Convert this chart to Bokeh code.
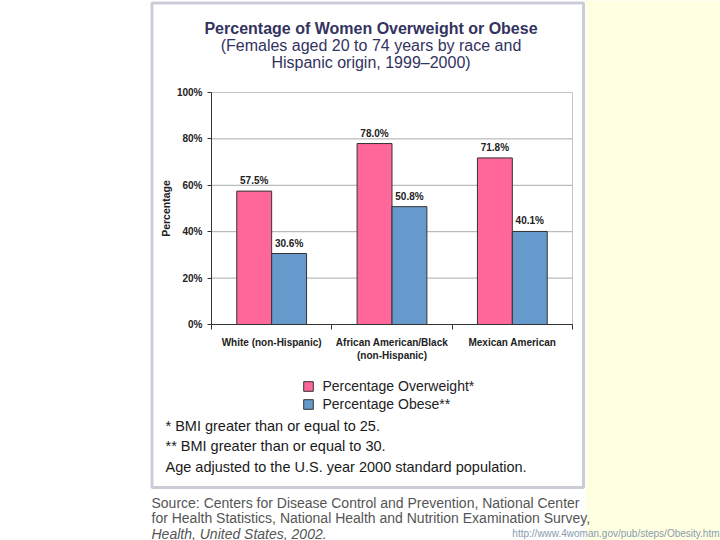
import numpy as np
from bokeh.plotting import figure
from bokeh.models import (Range1d, FixedTicker, PrintfTickFormatter, Label, Legend,
                          LegendItem, BoxAnnotation, ColumnDataSource)
from bokeh.core.properties import value
from bokeh.embed import file_html
from bokeh.resources import INLINE

# ---------------- data ----------------
categories = ["White (non-Hispanic)", "African American/Black\n(non-Hispanic)", "Mexican American"]
overweight = [57.5, 78.0, 71.8]
obese = [30.6, 50.8, 40.1]
y_ticks = [0, 20, 40, 60, 80, 100]
series_names = ["Percentage Overweight*", "Percentage Obese**"]
title_text = "Percentage of Women Overweight or Obese"
subtitle_lines = ["(Females aged 20 to 74 years by race and", "Hispanic origin, 1999–2000)"]
footnotes = ["* BMI greater than or equal to 25.",
             "** BMI greater than or equal to 30.",
             "Age adjusted to the U.S. year 2000 standard population."]
source_lines = ["Source: Centers for Disease Control and Prevention, National Center",
                "for Health Statistics, National Health and Nutrition Examination Survey,",
                "Health, United States, 2002."]
url_text = "http://www.4woman.gov/pub/steps/Obesity.htm"

# ---------------- layout (pixels) ----------------
W, H = 720, 540
CL, CR, CT, CB = 211, 572, 92, 324      # chart plot area on the canvas
FONT = "Liberation Sans"
n_cat = len(categories)
x_lo, x_hi = 0, n_cat
y_lo, y_hi = y_ticks[0], y_ticks[-1]
kx = (CR - CL) / (x_hi - x_lo)
ky = (CB - CT) / (y_hi - y_lo)

p = figure(width=W, height=H, output_backend="svg", toolbar_location=None,
           x_range=Range1d(x_lo - CL / kx, x_hi + (W - CR) / kx),
           y_range=Range1d(y_lo - (H - CB) / ky, y_hi + CT / ky),
           min_border=0, min_border_left=0, min_border_right=0,
           min_border_top=0, min_border_bottom=0)
p.title.visible = False
p.background_fill_color = "white"
p.border_fill_color = "white"
p.outline_line_color = None
p.xgrid.visible = False
p.ygrid.visible = False

def sx(rx):
    return rx

def sy(ry):
    return H - ry

# yellow strip and framed box
p.add_layout(BoxAnnotation(left=sx(585), right=sx(W + 10), top=sy(-10), bottom=sy(H + 10),
                           left_units="screen", right_units="screen",
                           top_units="screen", bottom_units="screen",
                           fill_color="#FFFFE1", fill_alpha=1, line_alpha=0, level="underlay"))
p.add_layout(BoxAnnotation(left=sx(151.5), right=sx(583), top=sy(2.5), bottom=sy(487),
                           left_units="screen", right_units="screen",
                           top_units="screen", bottom_units="screen",
                           fill_alpha=0, line_color="#55557F", line_width=3, level="overlay"))

# ---------------- grid + plot border ----------------
p.segment(x0=x_lo, x1=x_hi, y0=y_ticks[1:-1], y1=y_ticks[1:-1],
          line_color="#AAAAAA", line_width=1)
p.add_layout(BoxAnnotation(left=x_lo, right=x_hi, bottom=y_lo, top=y_hi,
                           fill_alpha=0, line_color="#404040", line_width=1, level="underlay"))

# ---------------- bars ----------------
xc = np.arange(n_cat) + 0.5
bw = 0.29
src = ColumnDataSource(dict(
    x_ow=xc - bw / 2, x_ob=xc + bw / 2, ow=overweight, ob=obese,
    ow_lbl=[f"{v:.1f}%" for v in overweight], ob_lbl=[f"{v:.1f}%" for v in obese]))

r1 = p.vbar(x="x_ow", top="ow", bottom=0, width=bw, source=src,
            fill_color="#FF6699", line_color="#333333", line_width=1)
r2 = p.vbar(x="x_ob", top="ob", bottom=0, width=bw, source=src,
            fill_color="#6699CC", line_color="#333333", line_width=1)

for col, lbl in (("x_ow", "ow"), ("x_ob", "ob")):
    p.text(x=col, y=lbl, text=lbl + "_lbl", source=src, text_align="center",
           text_baseline="bottom", y_offset=-5, text_font=value(FONT),
           text_font_style="bold", text_font_size="10px", text_color="#222222")

# ---------------- axes ----------------
xa = p.xaxis[0]
xa.fixed_location = y_lo
xa.bounds = (x_lo, x_hi)
xa.ticker = FixedTicker(ticks=list(xc), minor_ticks=list(range(n_cat + 1)))
xa.major_label_overrides = {float(v): c for v, c in zip(xc, categories)}
xa.major_tick_out = 0
xa.major_tick_in = 0
xa.minor_tick_out = 5
xa.minor_tick_in = 0
xa.major_label_standoff = 7
xa.axis_line_color = "#333333"
xa.minor_tick_line_color = "#333333"
xa.major_label_text_font = FONT
xa.major_label_text_font_style = "bold"
xa.major_label_text_font_size = "10px"
xa.major_label_text_color = "#222222"

ya = p.yaxis[0]
ya.fixed_location = x_lo
ya.bounds = (y_lo, y_hi)
ya.ticker = FixedTicker(ticks=y_ticks)
ya.formatter = PrintfTickFormatter(format="%d%%")
ya.major_tick_out = 4
ya.major_tick_in = 0
ya.minor_tick_out = 0
ya.minor_tick_in = 0
ya.major_label_standoff = 5
ya.axis_line_color = "#333333"
ya.major_tick_line_color = "#333333"
ya.major_label_text_font = FONT
ya.major_label_text_font_style = "bold"
ya.major_label_text_font_size = "10px"
ya.major_label_text_color = "#222222"
ya.axis_label = "Percentage"
ya.axis_label_text_font = FONT
ya.axis_label_text_font_style = "bold"
ya.axis_label_text_font_size = "10.5px"
ya.axis_label_text_color = "#222222"
ya.axis_label_standoff = 2

# ---------------- legend ----------------
leg_top, leg_h = 377, 35
legend = Legend(items=[LegendItem(label=series_names[0], renderers=[r1]),
                       LegendItem(label=series_names[1], renderers=[r2])],
                location=(sx(301.5), H - leg_top - leg_h),
                orientation="vertical", padding=0, margin=0, spacing=1,
                glyph_width=12, glyph_height=12, label_height=17, label_standoff=9,
                label_text_font=FONT, label_text_font_size="14px",
                label_text_color="#222222", border_line_alpha=0,
                background_fill_alpha=0)
p.add_layout(legend)

# ---------------- texts ----------------
def add_label(text, rx, ry, size, style="normal", color="#222222", align="left"):
    p.add_layout(Label(x=sx(rx), y=sy(ry), x_units="screen", y_units="screen", text=text,
                       text_font=FONT, text_font_size=size, text_font_style=style,
                       text_color=color, text_align=align, text_baseline="middle"))

add_label(title_text, 370.5, 27.5, "16px", "bold", "#333360", "center")
for i, line in enumerate(subtitle_lines):
    add_label(line, 370.5, 45 + 17 * i, "16px", "normal", "#333360", "center")

for i, line in enumerate(footnotes):
    add_label(line, 165, 425 + 20.5 * i, "14.5px", "normal", "#1a1a1a")

for i, line in enumerate(source_lines):
    add_label(line, 151, 502 + 15.5 * i, "14px", "italic" if i == 2 else "normal", "#555555")

add_label(url_text, 719, 533, "10px", "normal", "#8A9BB0", "right")

open("out.html", "w").write(file_html(p, INLINE))
